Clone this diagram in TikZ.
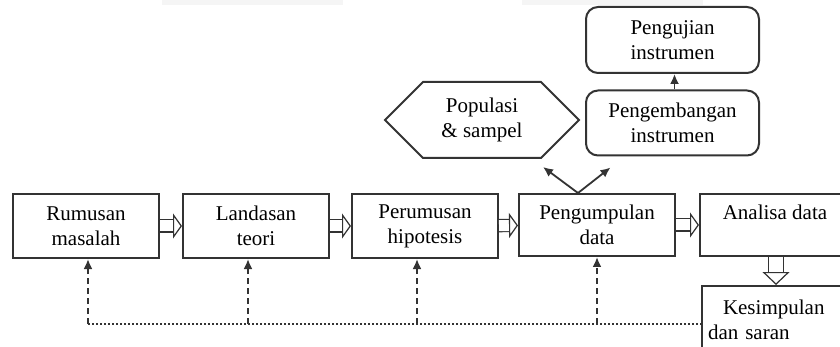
\documentclass[tikz,border=0pt]{standalone}
\usepackage{fontspec}
\setmainfont{Liberation Serif}
\usetikzlibrary{arrows.meta,shapes.symbols,calc}
\tikzset{
  stage/.style={draw=black!80, line width=1pt, minimum width=73pt, minimum height=32pt,
    align=center, font=\fontsize{10.5}{12.5}\selectfont, inner sep=2pt},
  instr/.style={stage, rounded corners=6pt, minimum width=86.5pt, minimum height=32.5pt},
  hexa/.style={stage, signal, signal to=west and east, signal pointer angle=90,
    minimum width=97pt, minimum height=38pt, inner sep=0pt},
  flow/.style={draw=black!80, line width=0.6pt, double, double distance=5.5pt,
    -{Triangle[open,length=4.5pt,width=12.5pt]}},
  down/.style={draw=black!80, line width=0.6pt, double, double distance=7pt,
    -{Triangle[open,length=6.5pt,width=13.5pt]}},
  back/.style={draw=black!80, line width=1pt, dashed, dash pattern=on 3pt off 2pt, -{Latex[length=5pt,width=4.5pt]}},
  line/.style={draw=black!80, line width=0.9pt, -{Latex[length=5pt,width=4.5pt]}}
}
\begin{document}
\begin{tikzpicture}[x=0.5pt,y=-0.5pt]
\useasboundingbox (0,0) rectangle (840,347);
\clip (0,0) rectangle (840,347);
\fill[black!4] (162,0) rectangle (343,5);
\fill[black!4] (522,0) rectangle (703,5);
\node[stage] (rumusan) at (86,226) {Rumusan\\masalah};
\node[stage] (landasan) at (256,226) {Landasan\\teori};
\node[stage] (perumusan) at (425,226) {Perumusan\\hipotesis};
\node[stage, minimum width=78pt, minimum height=31pt] (pengumpulan) at (597,225) {Pengumpulan\\data};
\node[stage, minimum width=75pt, minimum height=31pt] (analisa) at (775,225) {Analisa data\\\mbox{}};
\node[stage, text width=70pt, align=left, inner xsep=3pt, minimum height=34pt] (kesimpulan) at (778,320)
  {\hspace*{7.5pt}Kesimpulan\\dan saran};
\node[hexa] (populasi) at (482,120) {Populasi\\\& sampel};
\node[instr] (pengembangan) at (672.5,123) {Pengembangan\\instrumen};
\node[instr, minimum height=33pt] (pengujian) at (672.5,40) {Pengujian\\instrumen};
% alur utama
\draw[flow] (rumusan) -- (landasan);
\draw[flow] (landasan) -- (perumusan);
\draw[flow] (perumusan) -- (pengumpulan);
\draw[flow] (pengumpulan) -- (analisa);
\draw[down] (analisa.south) ++(1,0) coordinate (a1) -- (a1 |- kesimpulan.north);
% cabang instrumen
\coordinate (fork) at ($(pengumpulan.north)+(-19,0)$);
\draw[line] (fork) -- ($(populasi.south)+(61,8)$);
\draw[line] (fork) -- ($(pengembangan.south)+(-62,11)$);
\draw[line] (pengembangan.north) ++(2,0) coordinate (p1) -- (p1 |- pengujian.south);
% umpan balik
\coordinate (fb1) at (88,324);
\coordinate (fb2) at (248,324);
\coordinate (fb3) at (417,324);
\coordinate (fb4) at (597,324);
\draw[draw=black!80, line width=1pt, densely dotted] (fb1) -- (fb1 -| kesimpulan.west);
\draw[back] (fb1) -- (fb1 |- rumusan.south);
\draw[back] (fb2) -- (fb2 |- landasan.south);
\draw[back] (fb3) -- (fb3 |- perumusan.south);
\draw[back] (fb4) -- (fb4 |- pengumpulan.south);
\end{tikzpicture}
\end{document}
